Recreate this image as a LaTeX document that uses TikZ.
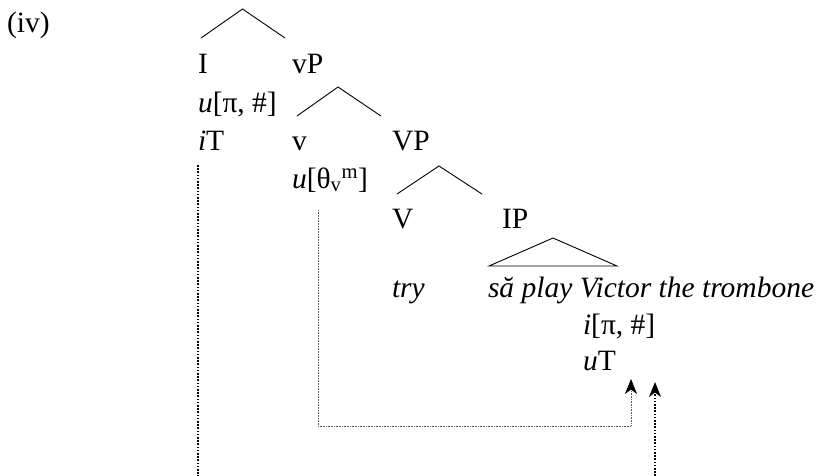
\documentclass[tikz,border=0pt]{standalone}
\usepackage{fontspec}
\setmainfont{Liberation Serif}
\usetikzlibrary{arrows.meta}
\begin{document}
\begin{tikzpicture}[x=1pt,y=-1pt,
  every node/.style={font=\fontsize{29.5}{35}\selectfont, inner sep=0pt, outer sep=0pt, anchor=base west},
  branch/.style={line width=0.9pt, line join=miter},
  thickdot/.style={line width=1.6pt, dash pattern=on 1.6pt off 1.6pt},
  thindot/.style={line width=0.7pt, dash pattern=on 0.8pt off 0.8pt, black!65},
  arrowtip/.style={-{Stealth[length=15pt,width=12pt,inset=4.5pt,black]}}
]
\useasboundingbox (0,0) rectangle (817,475);
% labels
\node (ex)   at (7,32)   {(iv)};
\node (I)    at (198,73) {I};
\node (vP)   at (292,73) {vP};
\node (Iphi) at (198,112) {\textit{u}[π, \#]};
\node (iT)   at (198,150) {\textit{i}T};
\node (v)    at (292,150) {v};
\node (VP)   at (392,150) {VP};
\node (vth)  at (292,188) {\textit{u}[θ\textsubscript{v}\textsuperscript{m}]};
\node (V)    at (392,228) {V};
\node (IP)   at (502,228) {IP};
\node (try)  at (392,297) {\textit{try}};
\node (sa)   at (488,297) {\textit{să play Victor the trombone}};
\node (iphi) at (583,334) {\textit{i}[π, \#]};
\node (uT)   at (583,370) {\textit{u}T};
% branches
\coordinate (b1) at (242.5,9);  \coordinate (b1l) at (201,38);  \coordinate (b1r) at (285,38);
\coordinate (b2) at (338,87);   \coordinate (b2l) at (297,116); \coordinate (b2r) at (381,116);
\coordinate (b3) at (439,166);  \coordinate (b3l) at (397,194); \coordinate (b3r) at (482,194);
\coordinate (b4) at (553,238);  \coordinate (b4l) at (489,266); \coordinate (b4r) at (617,266);
\draw[branch] (b1l) -- (b1) -- (b1r);
\draw[branch] (b2l) -- (b2) -- (b2r);
\draw[branch] (b3l) -- (b3) -- (b3r);
\draw[branch] (b4l) -- (b4) -- (b4r) -- cycle;
% dependency lines
\coordinate (iTfoot) at (198,165);
\coordinate (iTend)  at (198,476);
\coordinate (vfoot)  at (318,210);
\coordinate (vcorner) at (318,426);
\coordinate (tcorner) at (631,426);
\coordinate (tip1)   at (631,379);
\coordinate (tip2)   at (655,382);
\coordinate (tip2foot) at (655,476);
\draw[thickdot] (iTfoot) -- (iTend);
\draw[thindot,arrowtip] (vfoot) -- (vcorner) -- (tcorner) -- (tip1);
\draw[thickdot,arrowtip] (tip2foot) -- (tip2);
\end{tikzpicture}
\end{document}
